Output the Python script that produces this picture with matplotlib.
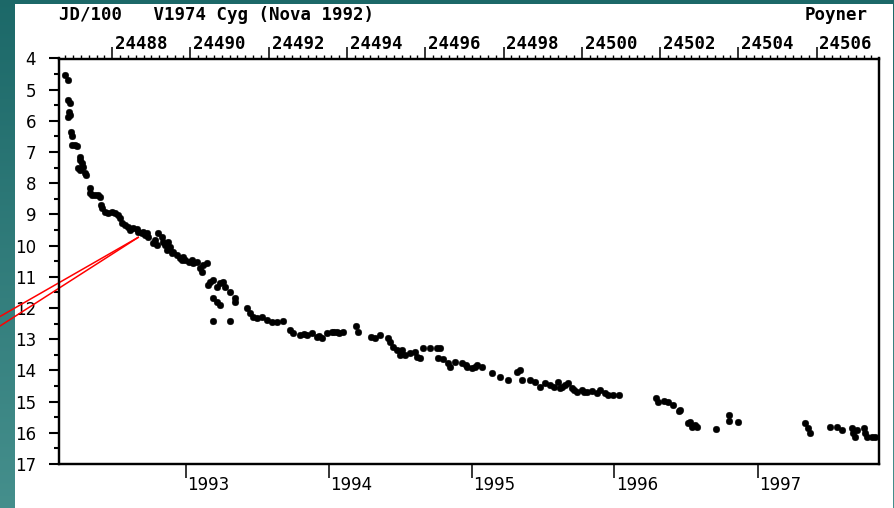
import numpy as np
import matplotlib
matplotlib.use("Agg")
import matplotlib.pyplot as plt
from matplotlib.patches import Rectangle
from matplotlib.transforms import blended_transform_factory

# Visual estimates of V1974 Cyg: Julian Date - 2400000 and magnitude
jd = [48679, 48688, 48688, 48692, 48690, 48692, 48688, 48694, 48696, 48696,
      48705, 48709, 48718, 48718, 48722, 48713, 48726, 48718, 48730, 48733,
      48743, 48743, 48748, 48756, 48764, 48769, 48771, 48773, 48782, 48790,
      48799, 48807, 48816, 48820, 48824, 48833, 48841, 48845, 48854, 48863,
      48867, 48875, 48879, 48884, 48888, 48905, 48914, 48918, 48927, 48931,
      48935, 48939, 48943, 48948, 48956, 48965, 48973, 48978, 48986, 48995,
      49003, 49007, 49016, 49024, 49029, 49042, 49046, 49050, 49058, 49067,
      49076, 49084, 49088, 49101, 49114, 49114, 49058, 49067, 49076, 49058,
      49102, 49144, 49152, 49161, 49169, 49182, 49195, 49208, 49220, 49237,
      49254, 49263, 49280, 49297, 49310, 49323, 49335, 49348, 49361, 49374,
      49391, 49423, 49427, 49461, 49472, 49484, 49506, 49510, 49518, 49527,
      49536, 49540, 49548, 49561, 49574, 49578, 49587, 49595, 49612, 49629,
      49638, 49633, 49646, 49659, 49663, 49676, 49693, 49706, 49719, 49732,
      49745, 49770, 49791, 49812, 49834, 49842, 49846, 49868, 49881, 49893,
      49906, 49919, 49929, 49940, 49944, 49957, 49966, 49974, 49987, 50000,
      50013, 50025, 50038, 50047, 50059, 50068, 50081, 50094, 50189, 50196,
      50209, 50221, 50234, 50249, 50251, 50272, 50277, 50281, 50290, 50294,
      50343, 50375, 50375, 50400, 50571, 50579, 50584, 50635, 50652, 50665,
      50690, 50694, 50698, 50703, 50720, 50724, 50728, 50741, 50750,
      48892, 48910, 48952, 48982, 49033, 49289, 49329, 49368, 49380, 49703,
      49726, 49950, 49980, 50006]
mag = [4.53, 4.69, 5.33, 5.44, 5.71, 5.81, 5.87, 6.35, 6.48, 6.77,
       6.77, 6.81, 7.15, 7.25, 7.36, 7.52, 7.47, 7.57, 7.68, 7.73,
       8.16, 8.32, 8.38, 8.38, 8.38, 8.43, 8.70, 8.80, 8.91, 8.96,
       8.91, 8.94, 9.02, 9.12, 9.28, 9.34, 9.39, 9.50, 9.45, 9.48,
       9.55, 9.60, 9.55, 9.66, 9.60, 9.93, 9.98, 9.60, 9.71, 9.87,
       9.98, 10.14, 9.87, 10.03, 10.19, 10.30, 10.41, 10.46, 10.46, 10.51,
       10.46, 10.57, 10.51, 10.73, 10.84, 10.57, 11.26, 11.16, 11.10, 11.32,
       11.21, 11.16, 11.32, 11.48, 11.69, 11.80, 11.69, 11.80, 11.90, 12.40,
       12.40, 12.01, 12.17, 12.28, 12.33, 12.28, 12.38, 12.44, 12.44, 12.41,
       12.70, 12.81, 12.86, 12.86, 12.81, 12.92, 12.97, 12.81, 12.76, 12.76,
       12.76, 12.58, 12.76, 12.92, 12.97, 12.86, 12.97, 13.08, 13.24, 13.35,
       13.51, 13.35, 13.51, 13.45, 13.40, 13.56, 13.61, 13.29, 13.29, 13.29,
       13.29, 13.61, 13.64, 13.77, 13.88, 13.72, 13.77, 13.88, 13.93, 13.83,
       13.88, 14.09, 14.22, 14.32, 14.04, 13.99, 14.31, 14.31, 14.36, 14.52,
       14.41, 14.47, 14.52, 14.36, 14.57, 14.47, 14.39, 14.57, 14.68, 14.63,
       14.68, 14.65, 14.71, 14.63, 14.73, 14.79, 14.79, 14.79, 14.89, 15.00,
       14.97, 15.00, 15.11, 15.29, 15.27, 15.70, 15.65, 15.81, 15.75, 15.81,
       15.89, 15.43, 15.62, 15.64, 15.70, 15.86, 16.02, 15.80, 15.80, 15.91,
       15.86, 16.02, 16.13, 15.91, 15.86, 16.02, 16.13, 16.13, 16.13,
       9.71, 9.82, 10.25, 10.36, 10.62, 12.84, 12.90, 12.78, 12.80, 13.84,
       13.90, 14.54, 14.62, 14.70]

# Upper axis: JD/100
jd_major = [48800, 49000, 49200, 49400, 49600, 49800, 50000, 50200, 50400, 50600]
jd_labels = ["24488", "24490", "24492", "24494", "24496", "24498",
             "24500", "24502", "24504", "24506"]
# Lower axis: start of each calendar year
year_ticks = [48988.5, 49353.5, 49718.5, 50083.5, 50449.5]
year_labels = ["1993", "1994", "1995", "1996", "1997"]
mag_ticks = list(range(4, 18))
# Observation singled out by the pointer
pointer_jd, pointer_mag = 48867, 9.73

W, H = 895, 508
fig = plt.figure(figsize=(W / 100, H / 100), dpi=100)

# teal frame with a soft vertical gradient
bg = fig.add_axes([0, 0, 1, 1], zorder=-10)
grad = np.linspace(0, 1, 256).reshape(-1, 1)
top_c = np.array([0.11, 0.41, 0.41])
bot_c = np.array([0.27, 0.56, 0.55])
img = top_c[None, None, :] * (1 - grad[:, :, None]) + bot_c[None, None, :] * grad[:, :, None]
bg.imshow(img, aspect="auto", extent=[0, 1, 0, 1], origin="upper")
bg.set_axis_off()
fig.patches.append(Rectangle((15 / W, 0), (893 - 15) / W, (H - 4) / H,
                             transform=fig.transFigure, facecolor="white",
                             edgecolor="none", zorder=-5))

ax = fig.add_axes([59 / W, (H - 464) / H, (879 - 59) / W, (464 - 58.5) / H])
ax.set_facecolor("white")
ax.plot(jd, mag, "o", color="black", ms=4.8, mec="black", mew=0.3, clip_on=False)

ax.set_xlim(48664, 50759.5)
ax.set_ylim(17, 4)
for s in ax.spines.values():
    s.set_linewidth(1.6)
    s.set_color("black")

# magnitude axis
ax.set_yticks(mag_ticks)
ax.set_yticks(np.arange(4.5, 17, 1.0), minor=True)
ax.tick_params(axis="y", which="major", length=7.5, width=1.5, pad=9,
               labelsize=12, direction="out")
ax.tick_params(axis="y", which="minor", length=3.8, width=1.5, direction="out")
for lab in ax.get_yticklabels():
    lab.set_fontfamily("DejaVu Sans")

# bottom: years
ax.set_xticks(year_ticks)
ax.set_xticklabels([])
ax.tick_params(axis="x", which="major", bottom=True, top=False, length=10,
               width=1.1, direction="out")
ax.tick_params(axis="x", which="minor", bottom=False, top=False)
bx = blended_transform_factory(ax.transData, ax.transAxes)
for v, t in zip(year_ticks, year_labels):
    ax.annotate(t, xy=(v, 0), xycoords=bx, xytext=(1.0, -8.8),
                textcoords="offset points", ha="left", va="top",
                fontsize=12, family="DejaVu Sans", annotation_clip=False)

# top: JD/100 scale
sec = ax.twiny()
sec.set_xlim(ax.get_xlim())
sec.set_xticks(jd_major)
sec.set_xticks(np.arange(48680, 50760, 20), minor=True)
sec.set_xticklabels([])
sec.tick_params(axis="x", which="major", top=True, length=8.5, width=1.1, direction="out")
sec.tick_params(axis="x", which="minor", top=True, length=3.0, width=1.0, direction="out")
for s in sec.spines.values():
    s.set_linewidth(1.6)
for v, t in zip(jd_major, jd_labels):
    sec.annotate(t, xy=(v, 1), xycoords=bx, xytext=(2.0, 6.8),
                 textcoords="offset points", ha="left", va="baseline",
                 fontsize=12.5, family="DejaVu Sans Mono", fontweight="bold",
                 annotation_clip=False)

fig.text(59 / W, 1 - 14.5 / H, "JD/100   V1974 Cyg (Nova 1992)", ha="left",
         va="center", fontsize=12.5, family="DejaVu Sans Mono", fontweight="bold")
fig.text(868 / W, 1 - 14.5 / H, "Poyner", ha="right", va="center",
         fontsize=12.5, family="DejaVu Sans Mono", fontweight="bold")

# red pointer lines running in from the left edge
for y0 in (H - 316.5, H - 326.0):
    ax.annotate("", xy=(pointer_jd, pointer_mag), xycoords="data",
                xytext=(0, y0), textcoords="figure pixels",
                arrowprops=dict(arrowstyle="-", color="red", lw=1.1,
                                shrinkA=0, shrinkB=0),
                annotation_clip=False, zorder=20)

fig.savefig("out.png", dpi=100)
